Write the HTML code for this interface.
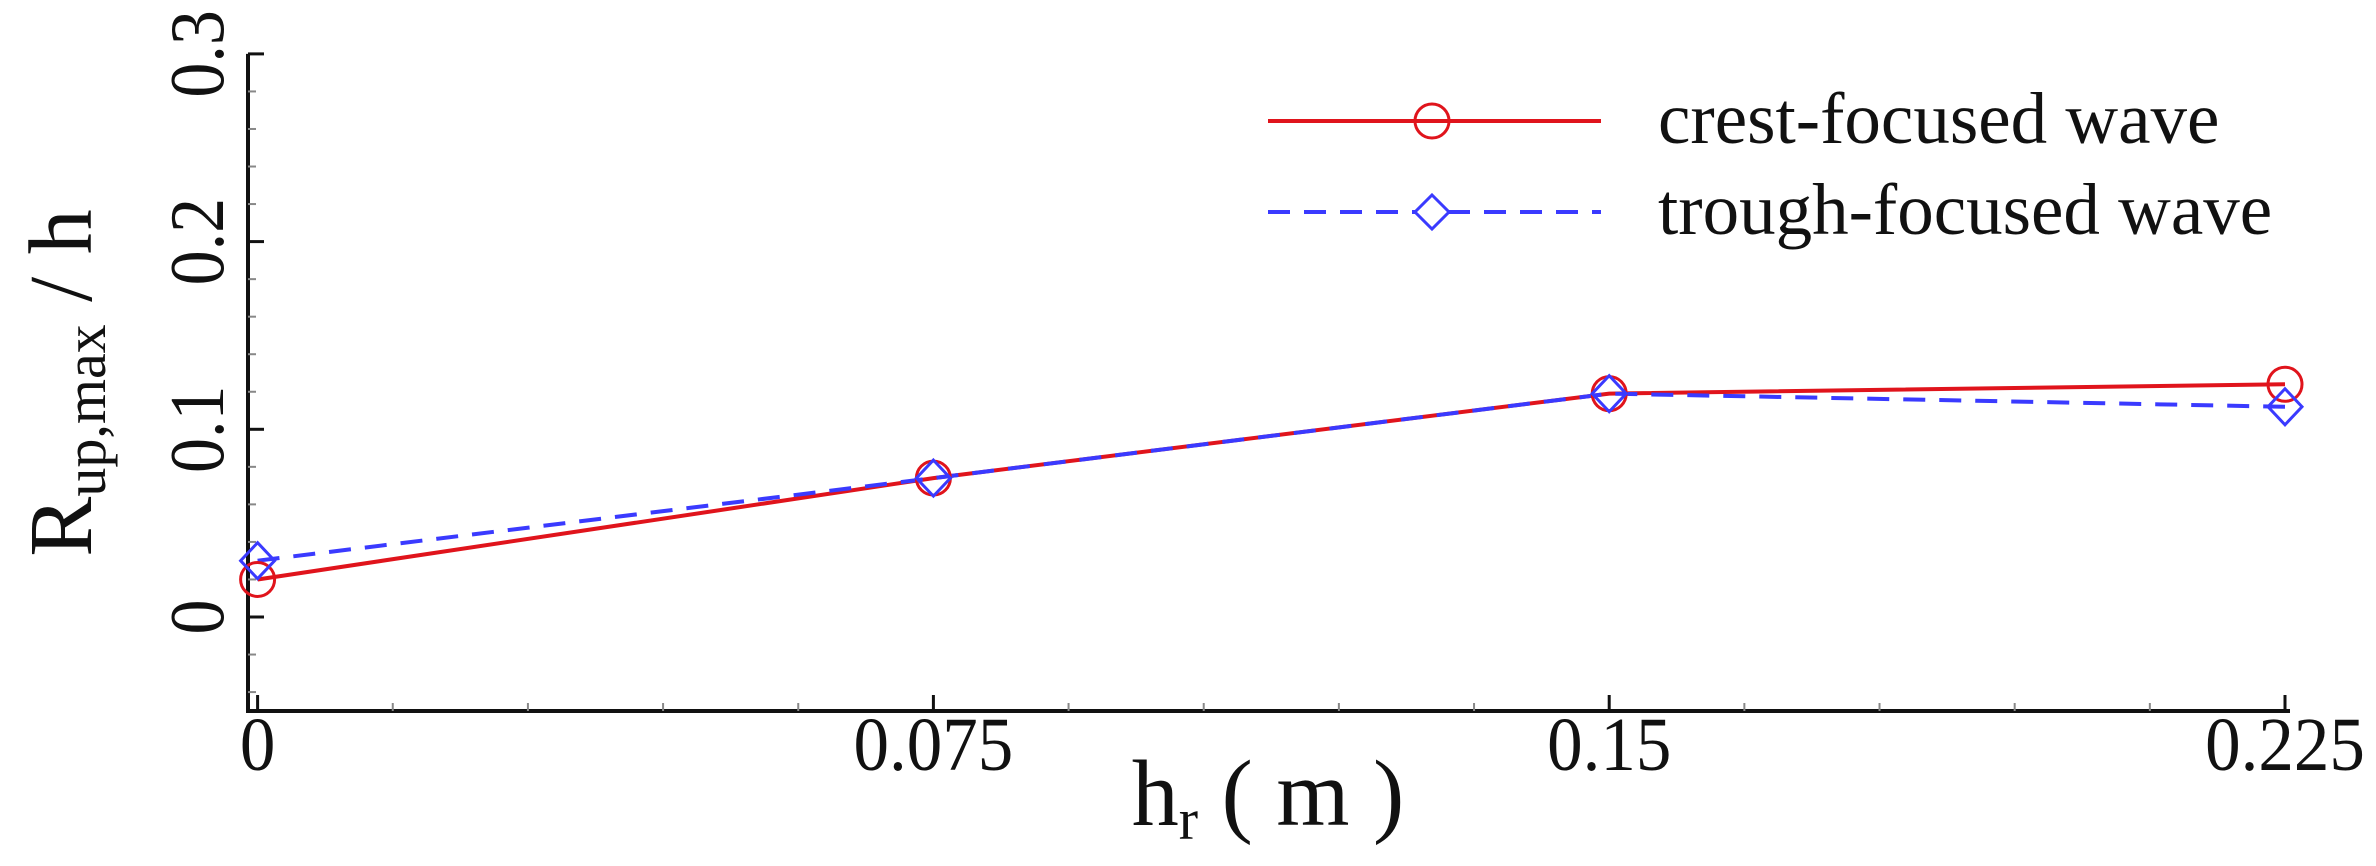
<!DOCTYPE html>
<html><head><meta charset="utf-8"><style>
html,body{margin:0;padding:0;background:#fff;}
svg{display:block;font-family:"Liberation Serif",serif;}
</style></head><body>
<svg id="chart" width="2376" height="866" viewBox="0 0 2376 866" xmlns="http://www.w3.org/2000/svg">
<g id="axes"></g>
<g id="series"></g>
<g id="legend">
  <line x1="1268" y1="121" x2="1601" y2="121" stroke="#e0141c" stroke-width="4"/>
  <circle cx="1432" cy="121" r="17" fill="none" stroke="#e0141c" stroke-width="3"/>
  <text x="1658" y="143" font-size="73" fill="#111">crest-focused wave</text>
  <line x1="1268" y1="212" x2="1601" y2="212" stroke="#3a3aff" stroke-width="4" stroke-dasharray="22,14"/>
  <path d="M1432 195 L1449 212 L1432 229 L1415 212 Z" fill="#fff" stroke="#3a3aff" stroke-width="3"/>
  <text x="1658" y="234" font-size="73" fill="#111">trough-focused wave</text>
</g>
<text x="1268" y="825" font-size="94" fill="#111" text-anchor="middle">h<tspan font-size="58" dy="14">r</tspan><tspan dy="-14"> ( m )</tspan></text>
<text transform="translate(91,383) rotate(-90)" font-size="90" fill="#111" text-anchor="middle">R<tspan font-size="58" dy="14">up,max</tspan><tspan dy="-14"> / h</tspan></text>
</svg>
<script>
const xCategories = [0, 0.075, 0.15, 0.225];
const crestValues = [0.02, 0.074, 0.119, 0.124];
const troughValues = [0.03, 0.074, 0.119, 0.112];
const xTickLabels = ["0", "0.075", "0.15", "0.225"];
const yTickValues = [0, 0.1, 0.2, 0.3];
const yTickLabels = ["0", "0.1", "0.2", "0.3"];

const NS = "http://www.w3.org/2000/svg";
const X0 = 257.6, XS = 675.8 / 0.075;
const Y0 = 617, YS = 187.7 / 0.1;
const xs = v => X0 + v * XS;
const ys = v => Y0 - v * YS;
function mk(tag, attrs, parent) {
  const e = document.createElementNS(NS, tag);
  for (const k in attrs) e.setAttribute(k, attrs[k]);
  parent.appendChild(e);
  return e;
}
const axes = document.getElementById('axes');
const series = document.getElementById('series');
const axL = 248, axR = 2290, axT = ys(0.3), axB = 711;
let e = mk('line', {x1: axL, y1: axT, x2: axL, y2: axB, stroke: '#111', 'stroke-width': 4}, axes);


e = mk('line', {x1: axL - 2, y1: axB, x2: axR, y2: axB, stroke: '#111', 'stroke-width': 4}, axes);


for (let i = 0; i <= 15; i++) {
  const v = i * 0.015;
  const major = i % 5 === 0;
  const t = mk('line', {x1: xs(v), y1: axB, x2: xs(v), y2: axB - (major ? 16 : 8), stroke: major ? '#111' : '#888', 'stroke-width': major ? 3 : 2}, axes);
  
  
}
for (let i = -2; i <= 15; i++) {
  const v = i * 0.02;
  const major = i % 5 === 0;
  const t = mk('line', {x1: axL, y1: ys(v), x2: axL + (major ? 16 : 8), y2: ys(v), stroke: major ? '#111' : '#888', 'stroke-width': major ? 3 : 2}, axes);
  
  
}
xCategories.forEach((v, i) => {
  const t = mk('text', {transform: `translate(${xs(v)},770) scale(1,1.07)`, 'font-size': 71, 'text-anchor': 'middle', fill: '#111'}, axes);
  t.textContent = xTickLabels[i];
  
  
});
yTickValues.forEach((v, i) => {
  const t = mk('text', {transform: `translate(223,${ys(v)}) rotate(-90) scale(1,1.1)`, 'font-size': 70, 'text-anchor': 'middle', fill: '#111'}, axes);
  t.textContent = yTickLabels[i];
  
  
});
const crestPts = xCategories.map((x, i) => xs(x) + ',' + ys(crestValues[i])).join(' ');
const troughPts = xCategories.map((x, i) => xs(x) + ',' + ys(troughValues[i])).join(' ');
const cl = mk('polyline', {points: crestPts, fill: 'none', stroke: '#e0141c', 'stroke-width': 4}, series);


const tl = mk('polyline', {points: troughPts, fill: 'none', stroke: '#3a3aff', 'stroke-width': 4, 'stroke-dasharray': '22,14'}, series);


xCategories.forEach((x, i) => {
  const c = mk('circle', {cx: xs(x), cy: ys(crestValues[i]), r: 17, fill: 'none', stroke: '#e0141c', 'stroke-width': 3}, series);
  
  
  const cx = xs(x), cy = ys(troughValues[i]);
  const d = mk('path', {d: `M${cx} ${cy-18} L${cx+17} ${cy} L${cx} ${cy+18} L${cx-17} ${cy} Z`, fill: 'none', stroke: '#3a3aff', 'stroke-width': 3}, series);
  
  
});
</script>
</body></html>
